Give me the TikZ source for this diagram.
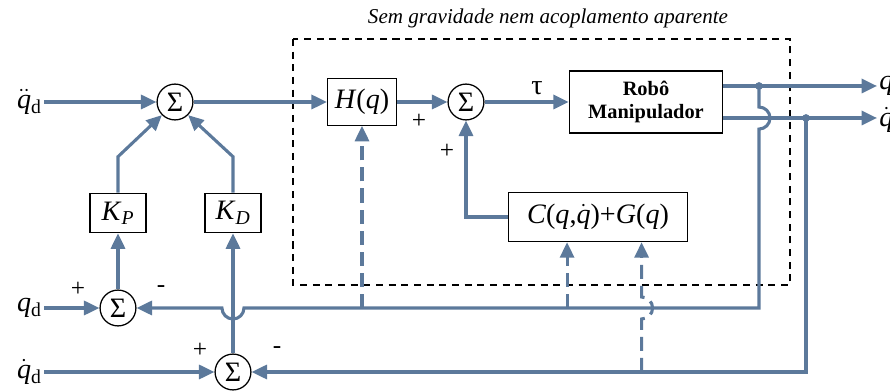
\documentclass[tikz,border=0pt]{standalone}
\usepackage{fontspec}
\setmainfont{Liberation Serif}
\usetikzlibrary{arrows.meta}
\definecolor{sigblue}{RGB}{92,121,155}
\begin{document}
\begin{tikzpicture}[x=0.025cm,y=-0.025cm,
    sig/.style={sigblue,line width=2.2pt},
    dsig/.style={sig,dash pattern=on 10pt off 5pt},
    tip/.style={-{Triangle[length=11pt,width=10pt]}},
    sumnode/.style={circle,draw,line width=0.9pt,minimum size=25.5pt,inner sep=0pt,font=\fontsize{20}{22}\selectfont},
    blockbox/.style={draw,line width=0.9pt,inner sep=0pt,font=\fontsize{20}{22}\selectfont},
    lbl/.style={font=\fontsize{20}{22}\selectfont,inner sep=1.5pt},
    sgn/.style={font=\fontsize{18}{20}\selectfont,inner sep=0pt},
    tapdot/.style={circle,fill=sigblue,inner sep=0pt,minimum size=5.5pt}]
    \useasboundingbox (0,0) rectangle (890,392);

    \node[font=\fontsize{15}{17}\selectfont\itshape] (title) at (548,18) {Sem gravidade nem acoplamento aparente};
    \draw[line width=0.9pt,dash pattern=on 5pt off 4pt] (293,39) rectangle (790,285);

    \node[sumnode] (s1) at (175,102) {Σ};
    \node[blockbox,minimum width=49pt,minimum height=33pt] (hq) at (362,102) {\textit{H}(\textit{q})};
    \node[sumnode] (s2) at (466,102) {Σ};
    \node[blockbox,minimum width=109pt,minimum height=44pt,align=center,font=\fontsize{14.5}{17}\selectfont\bfseries] (robo) at (646,102) {Robô\\Manipulador};
    \node[blockbox,minimum width=127pt,minimum height=35pt] (cg) at (598,217) {\textit{C}(\textit{q},$\dot{\mbox{\itshape q}}$)+\textit{G}(\textit{q})};
    \node[blockbox,minimum width=40pt,minimum height=28pt] (kp) at (118,213) {\textit{K}\textsubscript{\itshape P}};
    \node[blockbox,minimum width=40pt,minimum height=28pt] (kd) at (233,213) {\textit{K}\textsubscript{\itshape D}};
    \node[sumnode] (s3) at (118,308) {Σ};
    \node[sumnode] (s4) at (233,372) {Σ};

    \node[lbl,anchor=east] (qddin) at (44,102) {$\ddot{\mbox{\itshape q}}$\textsubscript{d}};
    \node[lbl,anchor=east] (qdin) at (44,308) {\textit{q}\textsubscript{d}};
    \node[lbl,anchor=east] (dqdin) at (44,372) {$\dot{\mbox{\itshape q}}$\textsubscript{d}};
    \node[lbl,anchor=west] (qout) at (877,86) {\textit{q}};
    \node[lbl,anchor=west] (dqout) at (877,120) {$\dot{\mbox{\itshape q}}$};
    \node[lbl] (tau) at (537,88) {τ};

    \coordinate (qtap) at (759,86);
    \coordinate (dqtap) at (806,118);
    \coordinate (qcorner) at (759,308);
    \coordinate (dqcorner) at (806,372);

    \draw[sig,tip] (qddin) -- (s1);
    \draw[sig,tip] (s1) -- (hq);
    \draw[sig,tip] (hq) -- (s2);
    \draw[sig,tip] (s2) -- (robo);
    \draw[sig,tip] (robo.east |- qtap) -- (qout.west |- qtap);
    \draw[sig,tip] (robo.east |- dqtap) -- (dqout.west |- dqtap);
    \node[tapdot] (qdot) at (qtap) {};
    \node[tapdot] (dqdot) at (dqtap) {};

    \draw[sig,tip] (qtap) -- ([yshift=7.8pt]qtap |- dqtap) arc[start angle=90,end angle=-90,radius=0.275cm] -- (qcorner) -- ([xshift=7.8pt]kd |- qcorner) arc[start angle=0,end angle=-180,radius=0.275cm] -- (s3);
    \draw[sig,tip] (dqtap) -- (dqcorner) -- (s4);

    \draw[sig,tip] (qdin) -- (s3);
    \draw[sig,tip] (dqdin) -- (s4);
    \draw[sig,tip] (s3) -- (kp);
    \draw[sig,tip] (s4) -- (kd);
    \draw[sig,tip] (kp.north) -- ++(0,-36) -- (s1.225);
    \draw[sig,tip] (kd.north) -- ++(0,-36) -- (s1.-45);
    \draw[sig,tip] (cg.west) -| (s2);

    \draw[dsig,tip] (hq |- qcorner) -- (hq);
    \draw[dsig,tip] ([xshift=-22pt]cg.south |- qcorner) -- ([xshift=-22pt]cg.south);
    \draw[dsig,tip] ([xshift=31pt]cg.south |- dqcorner) -- ++(0,-53) arc[start angle=-90,end angle=90,radius=0.275cm] -- ([xshift=31pt]cg.south);

    \node[sgn] (p3) at (78,289) {+};
    \node[sgn] (m3) at (161,289) {-};
    \node[sgn] (p4) at (200,350) {+};
    \node[sgn] (m4) at (277,350) {-};
    \node[sgn] (p2a) at (419,121) {+};
    \node[sgn] (p2b) at (447,151) {+};
\end{tikzpicture}
\end{document}
